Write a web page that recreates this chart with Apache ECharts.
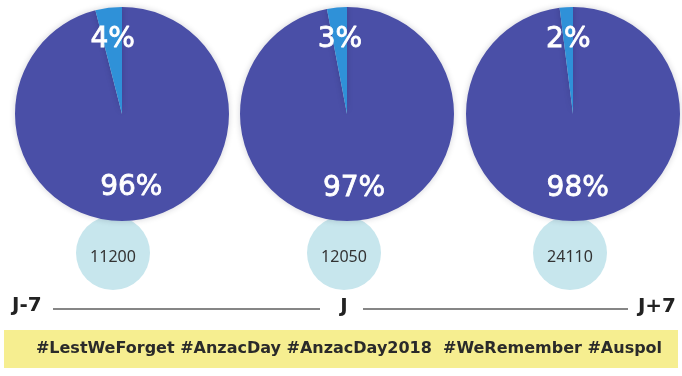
<!DOCTYPE html>
<html>
<head>
<meta charset="utf-8">
<title>Anzac Day hashtags</title>
<script src="https://cdn.jsdelivr.net/npm/echarts@6/dist/echarts.min.js"></script>
<style>
  html, body { margin: 0; padding: 0; background: #ffffff; }
  #chart { width: 682px; height: 376px; }
</style>
</head>
<body>
<div id="chart"></div>
<script>
// Period labels along the timeline
const periods = ['J-7', 'J', 'J+7'];
// Share of tweets (%) per period: main share and the remaining share
const mainShare = [96, 97, 98];
const otherShare = [4, 3, 2];
// Tweet volume per period
const volumes = [11200, 12050, 24110];
// Banner text
const hashtags = '#LestWeForget #AnzacDay #AnzacDay2018  #WeRemember #Auspol';

// Layout of each period column
const pieCenters = [[122, 114], [347, 114], [573, 114]];
const bubbleCenters = [[113, 253], [344, 253], [570, 253]];
const pieRadius = 107;
const bubbleRadius = 37;

const MAIN_COLOR = '#4a4fa7';
const OTHER_COLOR = '#2f91d8';
const BUBBLE_COLOR = '#c7e6ed';

const series = [];

periods.forEach(function (p, i) {
  const slices = [
    { name: p + ' main', value: mainShare[i] },
    { name: p + ' other', value: otherShare[i] }
  ];

  // volume bubble, partly tucked under the pie
  series.push({
    type: 'pie',
    z: 1,
    silent: true,
    center: bubbleCenters[i],
    radius: [0, bubbleRadius],
    startAngle: 90,
    itemStyle: { color: BUBBLE_COLOR },
    label: {
      show: true,
      position: 'center',
      formatter: '{c}',
      color: '#333333',
      fontFamily: 'Noto Sans',
      fontSize: 16,
      offset: [0, 4]
    },
    labelLine: { show: false },
    emphasis: { disabled: true },
    data: [{ name: p + ' volume', value: volumes[i] }]
  });

  // share pie
  series.push({
    type: 'pie',
    z: 2,
    silent: true,
    center: pieCenters[i],
    radius: [0, pieRadius],
    startAngle: 90,
    clockwise: true,
    label: { show: false },
    labelLine: { show: false },
    emphasis: { disabled: true },
    itemStyle: {
      shadowBlur: 6,
      shadowColor: 'rgba(0, 0, 40, 0.18)'
    },
    data: [
      { name: slices[0].name, value: slices[0].value, itemStyle: { color: MAIN_COLOR } },
      { name: slices[1].name, value: slices[1].value, itemStyle: { color: OTHER_COLOR } }
    ]
  });

  // percentage labels placed at two thirds of the radius
  series.push({
    type: 'pie',
    z: 3,
    silent: true,
    center: pieCenters[i],
    radius: [pieRadius * 0.34, pieRadius],
    startAngle: 90,
    clockwise: true,
    itemStyle: { color: 'rgba(0,0,0,0)' },
    label: {
      show: true,
      position: 'inside',
      formatter: '{c}%',
      color: '#ffffff',
      fontFamily: 'DejaVu Sans',
      fontSize: 28,
      textBorderColor: '#ffffff',
      textBorderWidth: 0.8
    },
    labelLine: { show: false },
    labelLayout: { hideOverlap: false },
    emphasis: { disabled: true },
    data: slices
  });
});

// Timeline row and hashtag banner
const lineY = 309;
const labelY = 307;
const labelFont = 'bold 20px "DejaVu Sans"';
const graphic = [
  {
    type: 'text', left: 12, top: labelY - 11,
    style: { text: periods[0], font: labelFont, fill: '#222222' }
  },
  {
    type: 'line',
    shape: { x1: 53, y1: lineY, x2: 320, y2: lineY },
    style: { stroke: '#5e5e5e', lineWidth: 1.5 }
  },
  {
    type: 'text', x: 344, y: labelY,
    style: { text: periods[1], font: labelFont, fill: '#222222', align: 'center', verticalAlign: 'middle' }
  },
  {
    type: 'line',
    shape: { x1: 363, y1: lineY, x2: 628, y2: lineY },
    style: { stroke: '#5e5e5e', lineWidth: 1.5 }
  },
  {
    type: 'text', x: 676, y: labelY,
    style: { text: periods[2], font: labelFont, fill: '#222222', align: 'right', verticalAlign: 'middle' }
  },
  {
    type: 'rect',
    shape: { x: 4, y: 330, width: 674, height: 38 },
    style: { fill: '#f6ee90' }
  },
  {
    type: 'text', x: 349, y: 349,
    style: {
      text: hashtags,
      font: 'bold 16px "DejaVu Sans"',
      fill: '#2a2a2a',
      align: 'center',
      verticalAlign: 'middle'
    }
  }
];

const chart = echarts.init(document.getElementById('chart'), null, { renderer: 'canvas' });
chart.setOption({
  backgroundColor: '#ffffff',
  animation: false,
  series: series,
  graphic: graphic
});
</script>
</body>
</html>
